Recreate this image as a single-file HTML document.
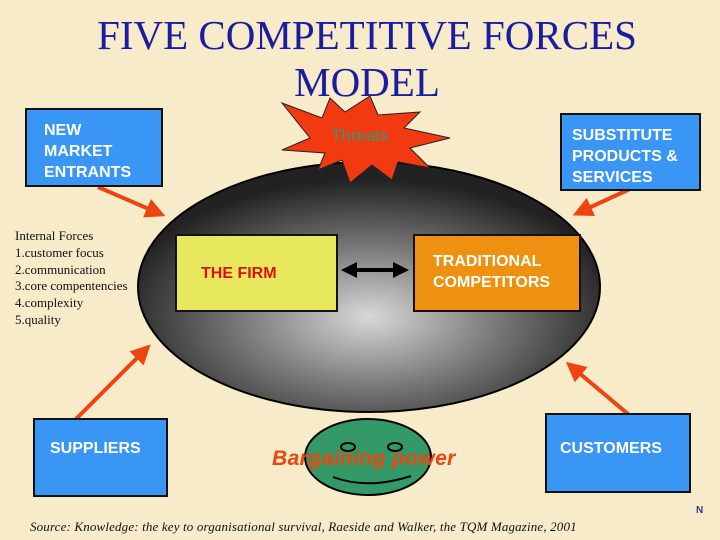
<!DOCTYPE html><html><head><style>
body{margin:0;width:720px;height:540px;overflow:hidden;background:#f7ebc9;position:relative;font-family:"Liberation Sans",sans-serif}
.t{position:absolute;left:0;width:734px;text-align:center;font-family:"Liberation Serif",serif;color:#1c1ca0;font-size:41px;line-height:46px}
.b{position:absolute;box-sizing:border-box;border:2px solid #111;color:#fff;font-weight:bold;font-size:16px;line-height:21px}
.blue{background:#3a96f5}
</style></head><body>
<svg width="720" height="540" style="position:absolute;left:0;top:0">
<defs><radialGradient id="g" cx="50%" cy="62%" r="55%"><stop offset="0" stop-color="#d8d8d8"/><stop offset="0.5" stop-color="#7a7a7a"/><stop offset="1" stop-color="#222"/></radialGradient>
<marker id="a" markerWidth="5" markerHeight="5" refX="3" refY="2.5" orient="auto"><path d="M0,0L5,2.5L0,5z" fill="#ee4411"/></marker>
<marker id="k" markerWidth="4" markerHeight="4" refX="3" refY="2" orient="auto-start-reverse"><path d="M0,0L4,2L0,4z" fill="#000"/></marker></defs>
<ellipse cx="369" cy="287" rx="231" ry="125" fill="url(#g)" stroke="#000" stroke-width="2"/>
<g stroke="#ee4411" stroke-width="4" marker-end="url(#a)">
<line x1="98" y1="187" x2="158" y2="213"/><line x1="632" y1="188" x2="580" y2="212"/>
<line x1="75" y1="420" x2="145" y2="350"/><line x1="628" y1="414" x2="572" y2="367"/></g>
<line x1="345" y1="270" x2="405" y2="270" stroke="#000" stroke-width="4" marker-start="url(#k)" marker-end="url(#k)"/>
<polygon points="282,103 322,118 330,98 345,112 370,96 378,115 420,112 404,128 450,138 410,148 430,168 398,162 392,180 372,165 350,183 342,160 318,170 325,153 282,150 310,138" fill="#f23a10" stroke="#222" stroke-width="1"/>
<ellipse cx="368" cy="457" rx="63" ry="38" fill="#339966" stroke="#000" stroke-width="2"/>
<ellipse cx="348" cy="447" rx="7" ry="4" fill="none" stroke="#000" stroke-width="2"/>
<ellipse cx="395" cy="447" rx="7" ry="4" fill="none" stroke="#000" stroke-width="2"/>
<path d="M333,477 Q368,490 411,476" fill="none" stroke="#000" stroke-width="2"/>
</svg>
<div class="t" style="top:12px">FIVE COMPETITIVE FORCES</div>
<div class="t" style="top:59px">MODEL</div>
<div style="position:absolute;left:331px;top:126px;color:#339977;font-size:17px">Threats</div>
<div class="b blue" style="left:25px;top:108px;width:138px;height:79px;padding:10px 0 0 17px">NEW<br>MARKET<br>ENTRANTS</div>
<div class="b blue" style="left:560px;top:113px;width:141px;height:78px;padding:10px 0 0 10px">SUBSTITUTE<br>PRODUCTS &amp;<br>SERVICES</div>
<div class="b blue" style="left:33px;top:418px;width:135px;height:79px;padding:18px 0 0 15px">SUPPLIERS</div>
<div class="b blue" style="left:545px;top:413px;width:146px;height:80px;padding:23px 0 0 13px">CUSTOMERS</div>
<div class="b" style="left:175px;top:234px;width:163px;height:78px;background:#e8e85e;color:#dd1111;padding:27px 0 0 24px">THE FIRM</div>
<div class="b" style="left:413px;top:234px;width:168px;height:78px;background:#ee9010;padding:15px 0 0 18px">TRADITIONAL<br>COMPETITORS</div>
<div style="position:absolute;left:15px;top:228px;font-family:'Liberation Serif',serif;font-size:13px;line-height:16.8px;color:#111">Internal Forces<br>1.customer focus<br>2.communication<br>3.core compentencies<br>4.complexity<br>5.quality</div>
<div style="position:absolute;left:272px;top:447px;color:#ee4411;font-weight:bold;font-style:italic;font-size:21px;letter-spacing:0.4px">Bargaining power</div>
<div style="position:absolute;left:30px;top:519px;font-family:'Liberation Serif',serif;font-style:italic;font-size:13px;letter-spacing:0.15px;color:#111">Source: Knowledge: the key to organisational survival, Raeside and Walker, the TQM Magazine, 2001</div>
<div style="position:absolute;left:696px;top:505px;color:#333399;font-weight:bold;font-size:10px">N</div>
</body></html>
